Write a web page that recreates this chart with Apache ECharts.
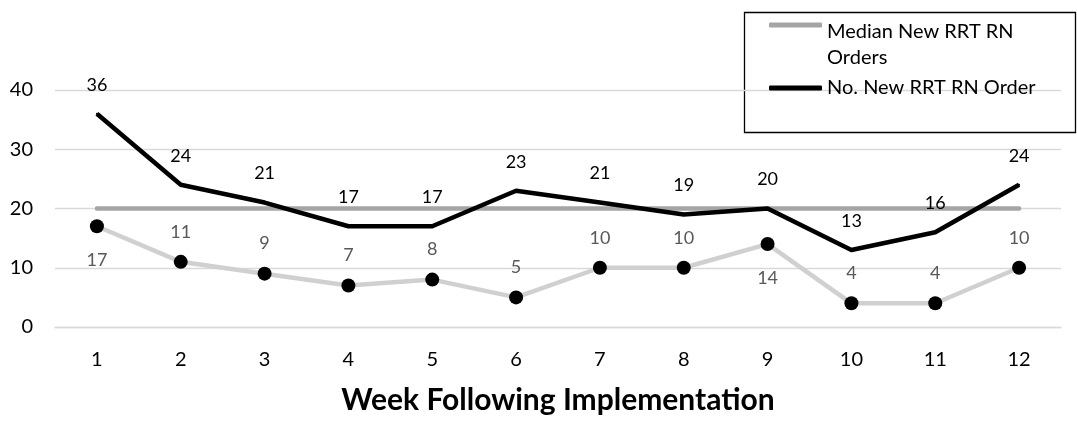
<!DOCTYPE html>
<html>
<head>
<meta charset="utf-8">
<script src="https://cdn.jsdelivr.net/npm/echarts@6/dist/echarts.min.js"></script>
<style>
  html, body { margin: 0; padding: 0; background: #fff; }
  #chart { width: 1077px; height: 424px; }
</style>
</head>
<body>
<div id="chart"></div>
<script>
// Weekly RRT RN order counts after implementation
const weeks = ['1', '2', '3', '4', '5', '6', '7', '8', '9', '10', '11', '12'];
const medianOrders = [20, 20, 20, 20, 20, 20, 20, 20, 20, 20, 20, 20];
const newOrders = [36, 24, 21, 17, 17, 23, 21, 19, 20, 13, 16, 24];
const comparisonOrders = [17, 11, 9, 7, 8, 5, 10, 10, 14, 4, 4, 10];
// label side for the dotted series (below for weeks 1 and 9)
const comparisonLabelSide = ['bottom', 'top', 'top', 'top', 'top', 'top', 'top', 'top', 'bottom', 'top', 'top', 'top'];
const yTicks = { min: 0, max: 40, interval: 10 };

const FONT = 'Lato, "Open Sans", sans-serif';

const chart = echarts.init(document.getElementById('chart'), null, { renderer: 'canvas' });

const comparisonData = comparisonOrders.map((v, i) => ({
  value: v,
  label: {
    position: comparisonLabelSide[i],
    distance: comparisonLabelSide[i] === 'bottom' ? 18 : 14
  }
}));

chart.setOption({
  animation: false,
  backgroundColor: '#ffffff',
  textStyle: { fontFamily: FONT },
  grid: { left: 55, right: 16, top: 90, bottom: 97, containLabel: false },
  legend: [
    {
      data: ['Median New RRT RN Orders'],
      orient: 'vertical',
      left: 769,
      top: -11,
      padding: 0,
      selectedMode: false,
      icon: 'roundRect',
      itemWidth: 53,
      itemHeight: 5,
      // wrapped over two lines, first line sitting level with the swatch
      formatter: () => '{gap| }\n{t|Median New RRT RN}\n{t|Orders}',
      textStyle: {
        fontFamily: FONT, fontSize: 20, color: '#000',
        rich: {
          gap: { fontSize: 20, lineHeight: 40 },
          t: { fontFamily: FONT, fontSize: 20, color: '#000', lineHeight: 26 }
        }
      }
    },
    {
      data: ['No. New RRT RN Order'],
      orient: 'vertical',
      left: 769,
      top: 78,
      padding: 0,
      selectedMode: false,
      icon: 'roundRect',
      itemWidth: 53,
      itemHeight: 5,
      textStyle: { fontFamily: FONT, fontSize: 20, color: '#000', lineHeight: 20 }
    }
  ],
  graphic: [
    {
      type: 'rect',
      left: 742,
      top: 10,
      shape: { x: 0, y: 0, width: 331, height: 120 },
      style: { fill: 'none', stroke: '#000', lineWidth: 1.3 },
      silent: true
    }
  ],
  xAxis: {
    type: 'category',
    data: weeks,
    boundaryGap: true,
    name: 'Week Following Implementation',
    nameLocation: 'middle',
    nameGap: 58,
    nameTextStyle: { fontFamily: FONT, fontSize: 30, fontWeight: 'bold', color: '#000' },
    axisLine: { show: true, lineStyle: { color: '#d9d9d9', width: 1.3 } },
    axisTick: { show: false },
    axisLabel: { fontFamily: FONT, fontSize: 20, color: '#000', margin: 23 }
  },
  yAxis: {
    type: 'value',
    min: yTicks.min,
    max: yTicks.max,
    interval: yTicks.interval,
    axisLine: { show: false },
    axisTick: { show: false },
    splitLine: { lineStyle: { color: '#d9d9d9', width: 1.3 } },
    axisLabel: { fontFamily: FONT, fontSize: 20, color: '#000', margin: 22 }
  },
  series: [
    {
      name: 'Comparison Orders',
      type: 'line',
      data: comparisonData,
      z: 2,
      symbol: 'circle',
      symbolSize: 14,
      itemStyle: { color: '#000' },
      lineStyle: { color: '#d0d0d0', width: 4.5, join: 'round' },
      label: { show: true, fontFamily: FONT, fontSize: 18, color: '#595959' }
    },
    {
      name: 'Median New RRT RN Orders',
      type: 'line',
      data: medianOrders,
      z: 3,
      symbol: 'none',
      color: '#a5a5a5',
      itemStyle: { color: '#a5a5a5' },
      lineStyle: { color: '#a5a5a5', width: 4.5, cap: 'round' }
    },
    {
      name: 'No. New RRT RN Order',
      type: 'line',
      data: newOrders,
      z: 4,
      symbol: 'circle',
      symbolSize: 2,
      color: '#000',
      itemStyle: { color: '#000' },
      lineStyle: { color: '#000', width: 4.5, join: 'round' },
      label: { show: true, position: 'top', distance: 19, fontFamily: FONT, fontSize: 18, color: '#000' }
    }
  ]
});
</script>
</body>
</html>
